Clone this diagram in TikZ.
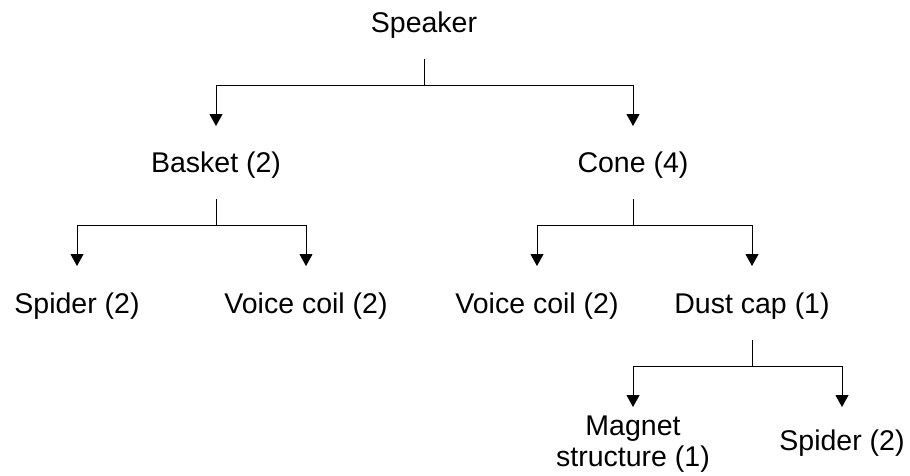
\documentclass[tikz,border=0pt]{standalone}
\usepackage{fontspec}
\setmainfont{Liberation Sans}
\usetikzlibrary{arrows.meta}
\begin{document}
\begin{tikzpicture}[x=1pt,y=-1pt,
  lbl/.style={inner sep=0pt, anchor=base, font=\fontsize{28.5}{31}\selectfont},
  ln/.style={line width=1pt, draw=black},
  arr/.style={ln, -{Triangle[width=13pt,length=12pt]}}]
\useasboundingbox (0,0) rectangle (910,475);
% nodes
\node[lbl] (sp) at (424,32) {Speaker};
\node[lbl] (bk) at (216,172) {Basket (2)};
\node[lbl] (cn) at (633,172) {Cone (4)};
\node[lbl] (sp1) at (77,313) {Spider (2)};
\node[lbl] (vc1) at (306,313) {Voice coil (2)};
\node[lbl] (vc2) at (537,313) {Voice coil (2)};
\node[lbl] (dc) at (752,313) {Dust cap (1)};
\node[lbl, anchor=center, align=center] (mg) at (633,444) {Magnet\\structure (1)};
\node[lbl] (sp2) at (842,450) {Spider (2)};
% helper coordinates
\foreach \p in {sp,bk,cn,dc}{
  \coordinate (\p s) at ([yshift=-27pt]\p.base);
  \coordinate (\p j) at ([yshift=-53pt]\p.base);
  \coordinate (\p t) at ([yshift=-94pt]\p.base);
}
% connectors
\draw[ln] (sps) -- (spj);
\draw[arr] (spj) -| (spt -| bk);
\draw[arr] (spj) -| (spt -| cn);
\draw[ln] (bks) -- (bkj);
\draw[arr] (bkj) -| (bkt -| sp1);
\draw[arr] (bkj) -| (bkt -| vc1);
\draw[ln] (cns) -- (cnj);
\draw[arr] (cnj) -| (cnt -| vc2);
\draw[arr] (cnj) -| (cnt -| dc);
\draw[ln] (dcs) -- (dcj);
\draw[arr] (dcj) -| (dct -| mg);
\draw[arr] (dcj) -| (dct -| sp2);
\end{tikzpicture}
\end{document}
